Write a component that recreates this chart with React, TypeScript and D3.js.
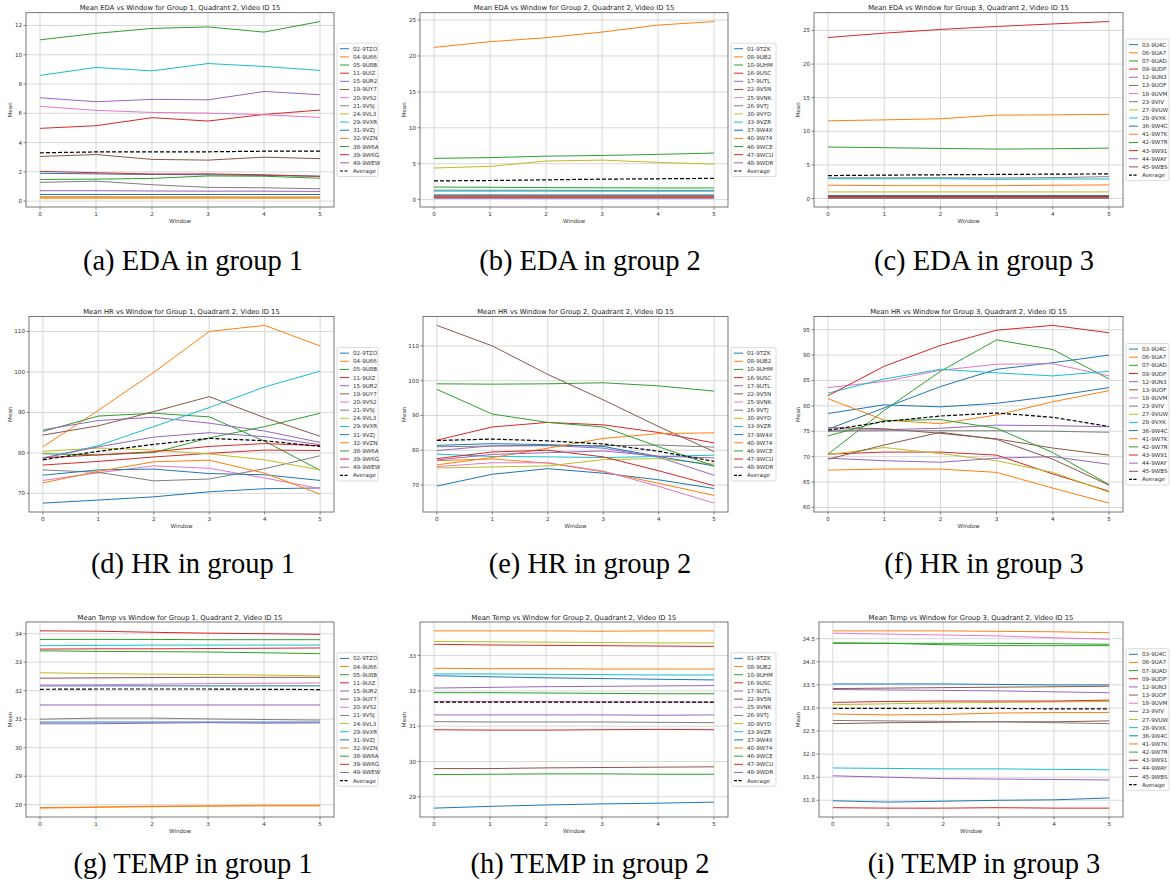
import React from "react";
import * as d3 from "d3";

// ---------- DATA ----------
const windows = [0, 1, 2, 3, 4, 5];

const group1Ids = ["02-9TZO", "04-9U66", "05-9U8B", "11-9UIZ", "15-9UR2", "19-9UY7", "20-9VS2", "21-9VSJ", "24-9VL3", "29-9VXR", "31-9VZJ", "32-9VZN", "38-9W6A", "39-9W6G", "49-9WEW"];
const group2Ids = ["01-9TZK", "08-9UB2", "10-9UHM", "16-9USC", "17-9UTL", "22-9V5N", "25-9VNK", "26-9VTJ", "30-9VYD", "33-9VZR", "37-9W4X", "40-9W74", "46-9WCE", "47-9WCU", "48-9WDR"];
const group3Ids = ["03-9U4C", "06-9UA7", "07-9UAD", "09-9UDP", "12-9UN3", "13-9UOF", "18-9UVM", "23-9VIV", "27-9VUW", "28-9VXK", "36-9W4C", "41-9W7K", "42-9W7R", "43-9W91", "44-9WAY", "45-9WBS"];

// EDA
const eda1 = [
  [0.45, 0.45, 0.45, 0.45, 0.45, 0.45],
  [0.2, 0.2, 0.2, 0.2, 0.2, 0.2],
  [11.02, 11.46, 11.8, 11.9, 11.55, 12.27],
  [4.97, 5.15, 5.7, 5.47, 5.92, 6.22],
  [7.06, 6.79, 6.95, 6.92, 7.49, 7.27],
  [3.05, 3.18, 2.85, 2.8, 3.0, 2.9],
  [6.47, 6.2, 6.06, 6.01, 5.9, 5.72],
  [1.28, 1.36, 1.12, 0.94, 0.91, 0.84],
  [0.26, 0.26, 0.25, 0.25, 0.25, 0.25],
  [8.59, 9.13, 8.9, 9.4, 9.2, 8.93],
  [1.9, 1.86, 1.82, 1.8, 1.75, 1.7],
  [0.3, 0.3, 0.29, 0.29, 0.28, 0.28],
  [1.48, 1.5, 1.55, 1.72, 1.7, 1.56],
  [2.03, 1.94, 1.85, 1.86, 1.8, 1.69],
  [0.71, 0.71, 0.69, 0.68, 0.68, 0.66],
];
const eda1Avg = [3.3, 3.36, 3.36, 3.37, 3.41, 3.42];

const eda2 = [
  [0.55, 0.55, 0.55, 0.55, 0.55, 0.55],
  [21.2, 21.99, 22.55, 23.33, 24.3, 24.8],
  [5.74, 5.85, 6.05, 6.15, 6.3, 6.48],
  [0.38, 0.38, 0.38, 0.38, 0.38, 0.38],
  [0.25, 0.25, 0.25, 0.25, 0.25, 0.25],
  [0.42, 0.42, 0.42, 0.42, 0.42, 0.42],
  [0.3, 0.3, 0.3, 0.3, 0.3, 0.3],
  [1.32, 1.3, 1.3, 1.28, 1.28, 1.28],
  [4.4, 4.63, 5.37, 5.5, 5.18, 4.95],
  [1.18, 1.18, 1.18, 1.17, 1.17, 1.17],
  [0.65, 0.65, 0.64, 0.64, 0.64, 0.64],
  [0.48, 0.47, 0.47, 0.47, 0.47, 0.47],
  [1.75, 1.72, 1.67, 1.64, 1.62, 1.62],
  [0.33, 0.33, 0.32, 0.32, 0.32, 0.32],
  [0.2, 0.2, 0.2, 0.2, 0.2, 0.2],
];
const eda2Avg = [2.6, 2.66, 2.75, 2.85, 2.9, 2.96];

const eda3 = [
  [0.45, 0.45, 0.45, 0.45, 0.45, 0.45],
  [11.56, 11.7, 11.86, 12.4, 12.45, 12.52],
  [7.66, 7.56, 7.45, 7.35, 7.4, 7.5],
  [23.95, 24.6, 25.15, 25.6, 25.97, 26.33],
  [0.3, 0.3, 0.3, 0.3, 0.3, 0.3],
  [0.4, 0.4, 0.4, 0.4, 0.4, 0.4],
  [0.2, 0.2, 0.2, 0.2, 0.2, 0.2],
  [3.06, 3.06, 3.08, 3.05, 3.1, 3.25],
  [0.98, 0.98, 0.98, 0.98, 0.98, 0.98],
  [2.95, 2.95, 2.95, 2.85, 2.9, 2.9],
  [0.35, 0.35, 0.35, 0.35, 0.35, 0.35],
  [1.98, 1.92, 1.9, 1.9, 1.98, 2.02],
  [0.15, 0.15, 0.15, 0.15, 0.15, 0.15],
  [0.3, 0.3, 0.3, 0.3, 0.3, 0.3],
  [0.1, 0.1, 0.1, 0.1, 0.1, 0.1],
  [0.05, 0.05, 0.05, 0.05, 0.05, 0.05],
];
const eda3Avg = [3.41, 3.48, 3.53, 3.58, 3.62, 3.66];

// HR
const hr1 = [
  [67.6, 68.35, 69.15, 70.4, 71.15, 71.35],
  [81.5, 90.5, 99.9, 110.0, 111.5, 106.4],
  [85.3, 89.1, 89.8, 88.9, 82.9, 75.7],
  [77.0, 77.9, 79.0, 79.9, 80.7, 80.6],
  [85.7, 88.0, 88.8, 87.35, 85.4, 82.6],
  [84.4, 86.7, 90.2, 93.9, 88.7, 84.1],
  [73.2, 75.1, 76.8, 76.2, 73.8, 71.2],
  [75.8, 75.2, 73.1, 73.55, 76.1, 79.3],
  [80.4, 81.2, 80.7, 79.75, 78.3, 75.8],
  [78.6, 81.8, 86.5, 91.2, 96.3, 100.2],
  [74.5, 75.8, 76.0, 74.9, 74.6, 73.2],
  [72.6, 75.45, 77.8, 78.2, 75.0, 69.8],
  [79.8, 79.5, 80.1, 83.7, 86.5, 89.8],
  [78.8, 79.5, 80.3, 81.6, 82.3, 81.8],
  [78.8, 81.5, 83.9, 85.0, 84.0, 82.0],
];
const hr1Avg = [78.3, 80.4, 82.1, 83.6, 83.0, 81.6];

const hr2 = [
  [69.7, 73.1, 74.7, 73.4, 71.5, 69.0],
  [77.0, 77.5, 76.3, 73.8, 70.5, 67.0],
  [99.1, 99.0, 99.1, 99.4, 98.5, 97.0],
  [82.9, 86.7, 88.0, 87.3, 85.1, 82.1],
  [79.9, 81.3, 81.4, 80.6, 78.0, 72.8],
  [115.9, 110.0, 101.8, 94.5, 86.8, 79.6],
  [75.3, 76.4, 76.4, 74.0, 69.6, 64.8],
  [81.0, 81.2, 81.3, 81.3, 81.5, 80.9],
  [74.9, 75.2, 75.5, 77.3, 77.6, 76.0],
  [78.9, 78.2, 78.1, 77.9, 78.2, 78.6],
  [81.4, 81.9, 81.6, 81.1, 78.2, 75.5],
  [75.8, 77.9, 80.6, 83.4, 84.8, 85.0],
  [97.5, 90.4, 88.0, 86.7, 81.0, 75.5],
  [77.6, 79.5, 80.0, 78.1, 74.1, 69.8],
  [77.2, 78.8, 79.3, 79.8, 78.3, 77.8],
];
const hr2Avg = [82.8, 83.2, 82.7, 81.8, 79.7, 76.8];

const hr3 = [
  [75.4, 79.6, 83.8, 87.2, 88.5, 90.0],
  [67.35, 67.55, 67.55, 66.9, 63.8, 60.85],
  [70.5, 79.1, 86.8, 93.0, 91.1, 85.3],
  [70.5, 70.9, 70.9, 70.3, 66.6, 63.2],
  [75.2, 75.3, 75.6, 76.2, 76.1, 75.9],
  [75.7, 75.5, 74.6, 73.5, 71.7, 70.3],
  [83.6, 84.8, 87.0, 88.2, 88.3, 85.9],
  [75.0, 75.1, 75.1, 75.1, 75.0, 74.8],
  [70.4, 71.8, 70.6, 69.2, 66.9, 63.0],
  [82.5, 85.3, 87.2, 86.5, 85.9, 86.8],
  [78.5, 80.2, 79.8, 80.5, 81.9, 83.6],
  [81.4, 77.2, 76.5, 78.2, 80.8, 83.0],
  [74.1, 77.1, 77.3, 75.6, 70.8, 64.5],
  [82.0, 87.8, 91.9, 94.9, 95.85, 94.4],
  [69.7, 69.2, 68.9, 69.7, 70.0, 68.5],
  [69.5, 72.3, 74.8, 73.4, 69.5, 64.4],
];
const hr3Avg = [75.2, 76.9, 78.0, 78.6, 77.75, 75.95];

// Temp
const temp1 = [
  [32.17, 32.17, 32.17, 32.17, 32.17, 32.17],
  [27.88, 27.91, 27.93, 27.95, 27.96, 27.96],
  [33.4, 33.38, 33.37, 33.36, 33.33, 33.3],
  [34.1, 34.09, 34.05, 34.02, 34.0, 33.98],
  [31.5, 31.5, 31.5, 31.5, 31.5, 31.5],
  [32.44, 32.45, 32.46, 32.47, 32.47, 32.47],
  [32.2, 32.21, 32.23, 32.25, 32.26, 32.27],
  [31.0, 31.04, 31.04, 31.01, 30.99, 30.97],
  [32.63, 32.6, 32.58, 32.57, 32.55, 32.52],
  [33.58, 33.59, 33.6, 33.6, 33.6, 33.6],
  [30.9, 30.9, 30.9, 30.9, 30.9, 30.9],
  [27.9, 27.92, 27.95, 27.96, 27.98, 27.98],
  [33.8, 33.8, 33.8, 33.79, 33.79, 33.79],
  [33.46, 33.47, 33.47, 33.48, 33.49, 33.5],
  [30.84, 30.84, 30.86, 30.88, 30.86, 30.87],
];
const temp1Avg = [32.05, 32.06, 32.06, 32.06, 32.05, 32.04];

const temp2 = [
  [28.68, 28.73, 28.77, 28.8, 28.82, 28.85],
  [32.64, 32.63, 32.63, 32.62, 32.62, 32.62],
  [31.95, 31.95, 31.94, 31.93, 31.92, 31.92],
  [33.32, 33.3, 33.29, 33.28, 33.27, 33.26],
  [32.08, 32.1, 32.12, 32.13, 32.14, 32.15],
  [29.8, 29.8, 29.82, 29.83, 29.84, 29.85],
  [31.7, 31.7, 31.7, 31.69, 31.69, 31.68],
  [31.13, 31.12, 31.12, 31.12, 31.11, 31.1],
  [33.4, 33.39, 33.38, 33.37, 33.36, 33.36],
  [32.48, 32.48, 32.47, 32.46, 32.45, 32.45],
  [32.43, 32.4, 32.37, 32.35, 32.33, 32.31],
  [33.7, 33.7, 33.7, 33.69, 33.7, 33.7],
  [29.63, 29.64, 29.65, 29.65, 29.64, 29.64],
  [30.9, 30.89, 30.89, 30.9, 30.91, 30.9],
  [31.32, 31.32, 31.32, 31.32, 31.31, 31.32],
];
const temp2Avg = [31.68, 31.68, 31.68, 31.68, 31.68, 31.68];

const temp3 = [
  [30.99, 30.96, 30.98, 31.0, 31.01, 31.05],
  [34.67, 34.67, 34.67, 34.66, 34.65, 34.63],
  [34.41, 34.4, 34.37, 34.35, 34.35, 34.35],
  [30.84, 30.83, 30.83, 30.84, 30.83, 30.83],
  [33.4, 33.39, 33.38, 33.37, 33.35, 33.33],
  [32.66, 32.68, 32.69, 32.7, 32.7, 32.72],
  [34.62, 34.6, 34.58, 34.56, 34.52, 34.49],
  [32.73, 32.72, 32.71, 32.7, 32.68, 32.66],
  [33.07, 33.09, 33.11, 33.12, 33.13, 33.14],
  [31.7, 31.69, 31.68, 31.68, 31.67, 31.66],
  [33.52, 33.52, 33.52, 33.51, 33.5, 33.5],
  [32.87, 32.85, 32.86, 32.89, 32.9, 32.9],
  [34.4, 34.4, 34.4, 34.4, 34.39, 34.38],
  [33.12, 33.14, 33.15, 33.15, 33.15, 33.17],
  [31.53, 31.5, 31.47, 31.46, 31.45, 31.44],
  [33.42, 33.43, 33.44, 33.45, 33.46, 33.47],
];
const temp3Avg = [32.99, 32.99, 32.99, 32.99, 32.98, 32.98];

const edaTicks = [[0, 2, 4, 6, 8, 10, 12], [0, 5, 10, 15, 20, 25], [0, 5, 10, 15, 20, 25]];
const hrTicks = [[70, 80, 90, 100, 110], [70, 80, 90, 100, 110], [60, 65, 70, 75, 80, 85, 90, 95]];
const tempTicks = [[28, 29, 30, 31, 32, 33, 34], [29, 30, 31, 32, 33], [31.0, 31.5, 32.0, 32.5, 33.0, 33.5, 34.0, 34.5]];

const metricNames = ["EDA", "HR", "Temp"];
const captionNames = ["EDA", "HR", "TEMP"];
const captionLetters = ["a", "b", "c", "d", "e", "f", "g", "h", "i"];

// ---------- LAYOUT ----------
const ROWS = [
  { top: 12.7, bottom: 207, titleY: 9.6, xlabY: 223, capY: 270 },
  { top: 316.5, bottom: 512, titleY: 314, xlabY: 528, capY: 573 },
  { top: 622, bottom: 817, titleY: 619.5, xlabY: 833, capY: 873 },
];
const LEFTS = [[26, 420, 814], [29, 423, 814], [26, 420, 819]];
const RIGHTS = [334, 728, 1123];
const MEAN_X = [10, 404, 798];
const LEGEND_W = [41, 45, 43];
const CAP_X = [193, 590, 984];

const FONT = "DejaVu Sans, sans-serif";
const colors = d3.schemeCategory10;

function Panel({ row, col, ids, series, avg, ticks, fmt, metric }) {
  const R = ROWS[row];
  const left = LEFTS[row][col];
  const right = RIGHTS[col];
  const all = series.flat().concat(avg);
  const [mn, mx] = d3.extent(all);
  const pad = (mx - mn) * 0.05;
  const x = d3.scaleLinear().domain([-0.25, 5.25]).range([left, right]);
  const y = d3.scaleLinear().domain([mn - pad, mx + pad]).range([R.bottom, R.top]);
  const line = d3.line<number>().x((_, i) => x(windows[i])).y((v) => y(v));
  const title = `Mean ${metric} vs Window for Group ${col + 1}, Quadrant 2, Video ID 15`;

  const nEntries = ids.length + 1;
  const pitch = 8.15;
  const lh = nEntries * pitch + 3;
  const lx = right + 3;
  const ly = (R.top + R.bottom) / 2 - lh / 2;
  const lw = LEGEND_W[col];

  return (
    <g>
      {windows.map((w) => (
        <line key={"gx" + w} x1={x(w)} x2={x(w)} y1={R.top} y2={R.bottom} stroke="#d4d4d4" strokeWidth={0.9} />
      ))}
      {ticks.map((t) => (
        <line key={"gy" + t} x1={left} x2={right} y1={y(t)} y2={y(t)} stroke="#d4d4d4" strokeWidth={0.9} />
      ))}
      {series.map((s, i) => (
        <path key={ids[i]} d={line(s) || ""} fill="none" stroke={colors[i % 10]} strokeWidth={1} />
      ))}
      <path d={line(avg) || ""} fill="none" stroke="#000" strokeWidth={1.2} strokeDasharray="4,2" />
      <rect x={left} y={R.top} width={right - left} height={R.bottom - R.top} fill="none" stroke="#555" strokeWidth={0.8} />
      {windows.map((w) => (
        <g key={"tx" + w}>
          <line x1={x(w)} x2={x(w)} y1={R.bottom} y2={R.bottom + 2.5} stroke="#555" strokeWidth={0.7} />
          <text x={x(w)} y={R.bottom + 9} fontSize={5.6} textAnchor="middle" fill="#333" fontFamily={FONT}>{w}</text>
        </g>
      ))}
      {ticks.map((t) => (
        <g key={"ty" + t}>
          <line x1={left - 2.5} x2={left} y1={y(t)} y2={y(t)} stroke="#555" strokeWidth={0.7} />
          <text x={left - 4} y={y(t) + 2} fontSize={5.6} textAnchor="end" fill="#333" fontFamily={FONT}>{fmt(t)}</text>
        </g>
      ))}
      <text x={(left + right) / 2} y={R.titleY} fontSize={6.8} textAnchor="middle" fill="#222" fontFamily={FONT}>{title}</text>
      <text x={(left + right) / 2} y={R.xlabY} fontSize={5.6} textAnchor="middle" fill="#333" fontFamily={FONT}>Window</text>
      <text transform={`translate(${MEAN_X[col] + 2},${(R.top + R.bottom) / 2}) rotate(-90)`} fontSize={5.6} textAnchor="middle" fill="#333" fontFamily={FONT}>Mean</text>
      <rect x={lx} y={ly} width={lw} height={lh} rx={1.5} fill="#fff" fillOpacity={0.8} stroke="#ccc" strokeWidth={0.7} />
      {ids.concat(["Average"]).map((name, i) => {
        const cy = ly + 1.5 + pitch * (i + 0.5);
        const isAvg = i === ids.length;
        return (
          <g key={"lg" + name}>
            <line x1={lx + 3} x2={lx + 12} y1={cy} y2={cy} stroke={isAvg ? "#000" : colors[i % 10]} strokeWidth={isAvg ? 1.2 : 1} strokeDasharray={isAvg ? "3,1.5" : undefined} />
            <text x={lx + 16} y={cy + 2} fontSize={5.6} fill="#333" fontFamily={FONT}>{name}</text>
          </g>
        );
      })}
      <text x={CAP_X[col]} y={R.capY} fontSize={28.5} textAnchor="middle" fill="#000" fontFamily="Liberation Serif, serif">
        {`(${captionLetters[row * 3 + col]}) ${captionNames[row]} in group ${col + 1}`}
      </text>
    </g>
  );
}

export default function App() {
  const groups = [group1Ids, group2Ids, group3Ids];
  const data = [
    [[eda1, eda1Avg], [eda2, eda2Avg], [eda3, eda3Avg]],
    [[hr1, hr1Avg], [hr2, hr2Avg], [hr3, hr3Avg]],
    [[temp1, temp1Avg], [temp2, temp2Avg], [temp3, temp3Avg]],
  ];
  const tickSets = [edaTicks, hrTicks, tempTicks];
  const fmtInt = (t: number) => d3.format("d")(t);
  const fmt1 = (t: number) => d3.format(".1f")(t);
  return (
    <svg width={1171} height={886} style={{ position: "absolute", left: 0, top: 0, background: "#fff" }}>
      <rect x={0} y={0} width={1171} height={886} fill="#fff" />
      {data.map((rowData, r) =>
        rowData.map(([s, a], c) => (
          <Panel
            key={`${r}-${c}`}
            row={r}
            col={c}
            ids={groups[c]}
            series={s}
            avg={a}
            ticks={tickSets[r][c]}
            fmt={r === 2 && c === 2 ? fmt1 : fmtInt}
            metric={metricNames[r]}
          />
        ))
      )}
    </svg>
  );
}
